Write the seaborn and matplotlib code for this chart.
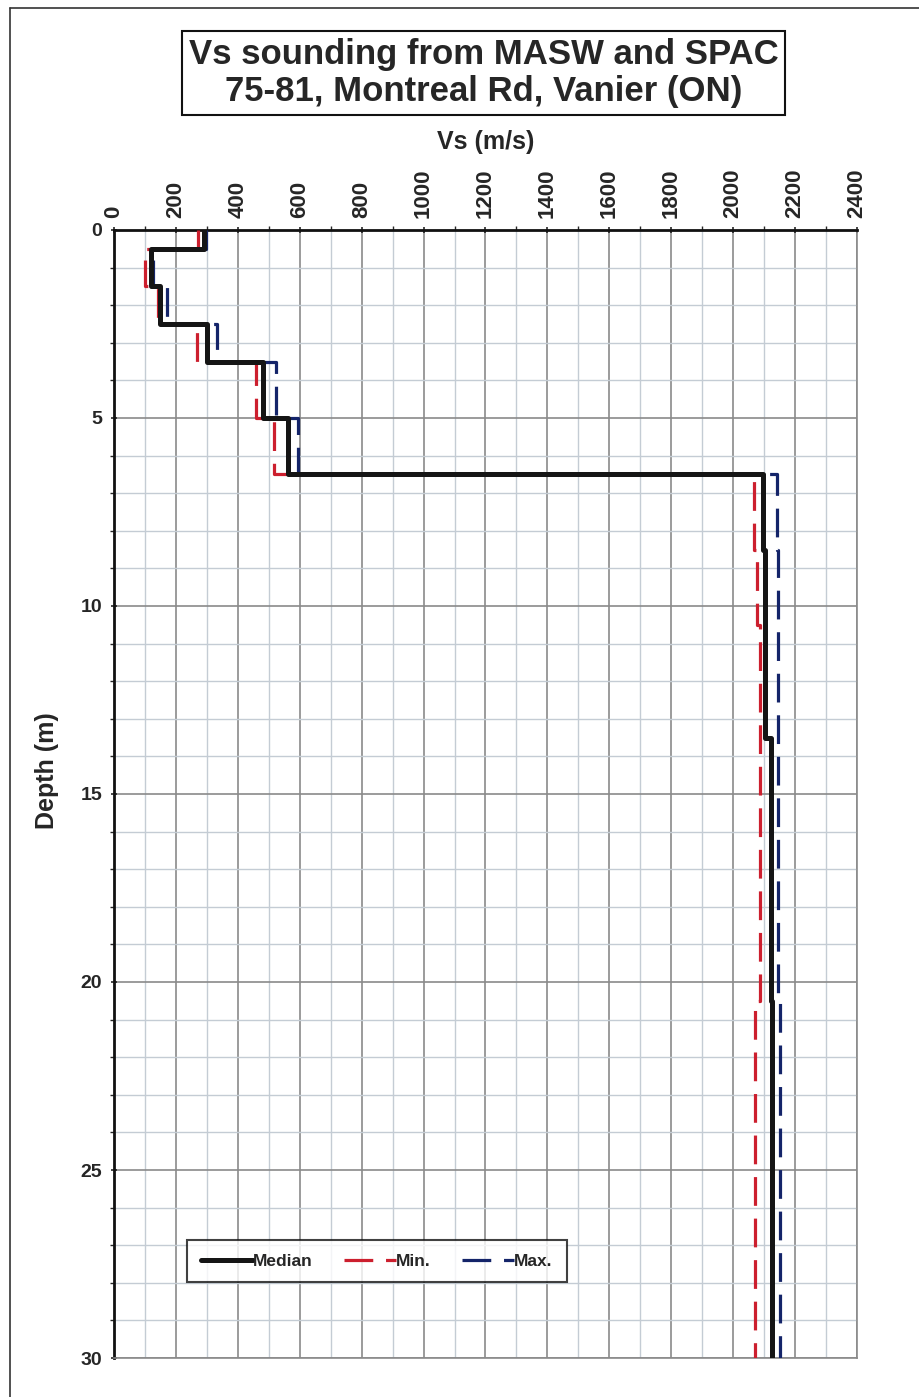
import numpy as np
import pandas as pd
import seaborn as sns
import matplotlib.pyplot as plt
from matplotlib.lines import Line2D

# layer boundaries (m) and Vs per layer (m/s)
tops = [0.0, 0.5, 1.5, 2.5, 3.5, 5.0, 6.5, 8.5, 10.5, 13.5, 20.5]
bottoms = [0.5, 1.5, 2.5, 3.5, 5.0, 6.5, 8.5, 10.5, 13.5, 20.5, 30.0]
vs_median = [292, 121, 150, 300, 481, 561, 2095, 2104, 2104, 2121, 2124]
vs_min = [270, 101, 141, 268, 458, 518, 2069, 2076, 2088, 2088, 2072]
vs_max = [296, 126, 172, 332, 522, 595, 2143, 2146, 2146, 2146, 2150]


def steps(vals):
    xs, ys = [], []
    for t, b, v in zip(tops, bottoms, vals):
        xs += [v, v]
        ys += [t, b]
    return pd.DataFrame({"Vs": xs, "Depth": ys})


sns.set_style("white")
plt.rcParams["font.family"] = ["Liberation Sans", "DejaVu Sans"]
plt.rcParams["font.weight"] = "bold"

fig = plt.figure(figsize=(9.19, 13.97), dpi=100)
ax = fig.add_axes([0.124, 0.0279, 0.8085, 0.8075])

# grid
for v in np.arange(100, 2401, 200):
    ax.axvline(v, color="#c4ccd4", lw=1, zorder=0)
for v in np.arange(200, 2401, 200):
    ax.axvline(v, color="#8a8a8a", lw=1.2, zorder=0)
for d in np.arange(1, 30):
    if d % 5:
        ax.axhline(d, color="#c4ccd4", lw=1, zorder=0)
for d in np.arange(5, 31, 5):
    ax.axhline(d, color="#8a8a8a", lw=1.2, zorder=0)

sns.lineplot(data=steps(vs_min), x="Vs", y="Depth", sort=False, estimator=None,
             color="#cc1f2e", lw=2.3, ax=ax, label="Min.", zorder=3)
ax.lines[-1].set_linestyle((0, (9, 4)))
sns.lineplot(data=steps(vs_max), x="Vs", y="Depth", sort=False, estimator=None,
             color="#142469", lw=2.3, ax=ax, label="Max.", zorder=3)
ax.lines[-1].set_linestyle((0, (9, 4)))
sns.lineplot(data=steps(vs_median), x="Vs", y="Depth", sort=False, estimator=None,
             color="#151515", lw=3.6, ax=ax, label="Median", zorder=4)

ax.set_xlim(0, 2400)
ax.set_ylim(30, 0)
ax.xaxis.tick_top()
ax.set_xticks(np.arange(0, 2401, 200))
ax.set_xticks(np.arange(0, 2401, 100), minor=True)
ax.set_yticks(np.arange(0, 31, 5))
ax.set_yticks(np.arange(0, 31, 1), minor=True)
ax.tick_params(axis="x", which="major", top=True, bottom=False, length=5, width=1.2,
               labelsize=16, labelrotation=90, pad=6, direction="inout")
ax.tick_params(axis="x", which="minor", top=True, bottom=False, length=3, width=1)
ax.tick_params(axis="y", which="major", left=True, length=5, width=1.2, labelsize=14,
               pad=6, direction="inout")
ax.tick_params(axis="y", which="minor", left=True, length=3, width=1)
for lab in ax.get_xticklabels() + ax.get_yticklabels():
    lab.set_fontweight("bold")
ax.set_xlabel("")
ax.set_ylabel("Depth (m)", fontsize=18, fontweight="bold")
ax.yaxis.set_label_coords(-0.074, 0.521)

for s in ["left", "top"]:
    ax.spines[s].set_color("#111111")
    ax.spines[s].set_linewidth(2)
for s in ["right", "bottom"]:
    ax.spines[s].set_color("#8a8a8a")
    ax.spines[s].set_linewidth(1.2)

h, l = ax.get_legend_handles_labels()
order = [2, 0, 1]
leg = ax.legend([h[i] for i in order], [l[i] for i in order], loc="center",
                bbox_to_anchor=(0.354, 0.086), ncol=3, frameon=True, fancybox=False,
                edgecolor="#111111", handlelength=3.0, columnspacing=1.8,
                handletextpad=0.0, prop={"weight": "bold", "size": 12.5},
                borderpad=0.8, borderaxespad=0)
leg.get_frame().set_linewidth(1.5)

fig.text(0.5261, 0.9477, "Vs sounding from MASW and SPAC\n75-81, Montreal Rd, Vanier (ON)",
         ha="center", va="center", fontsize=25, fontweight="bold", linespacing=1.15,
         bbox=dict(boxstyle="square,pad=0.2", fc="white", ec="#111111", lw=1.5))
fig.text(0.529, 0.898, "Vs (m/s)", ha="center", va="center", fontsize=18,
         fontweight="bold")

# scanned page border: left and top edges only
fig.add_artist(Line2D([0.011, 0.011], [0.0, 0.994], transform=fig.transFigure,
                      color="#333333", lw=1.2))
fig.add_artist(Line2D([0.011, 1.0], [0.994, 0.994], transform=fig.transFigure,
                      color="#333333", lw=1.2))

fig.savefig("out.png", dpi=100)
